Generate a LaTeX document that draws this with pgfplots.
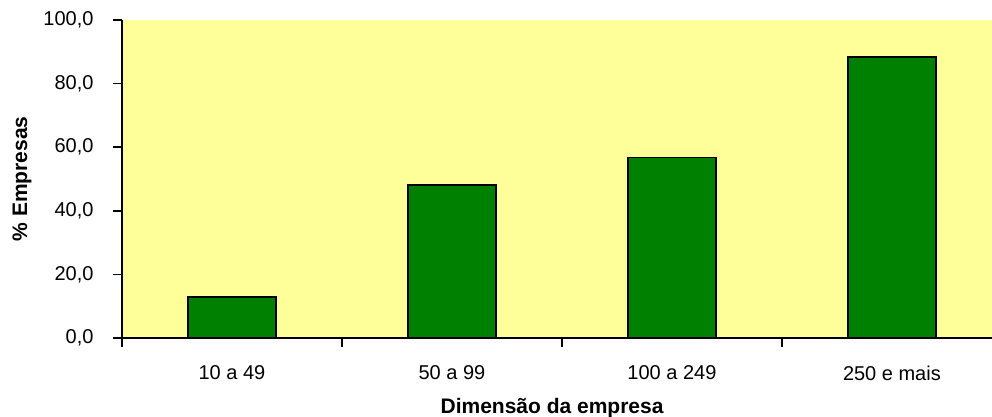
\documentclass[border=0pt]{standalone}
\usepackage{fontspec}
\setmainfont{Liberation Sans}
\usepackage{pgfplots}
\pgfplotsset{compat=1.18}
\definecolor{plotyellow}{HTML}{FFFF99}
\definecolor{bargreen}{HTML}{008000}
\begin{document}
\begin{tikzpicture}
\begin{axis}[
  scale only axis, width=870pt, height=318pt,
  xmin=-0.5, xmax=3.455, ymin=0, ymax=100,
  axis lines*=left,
  axis line style={-, line width=1.5pt, black},
  axis background/.style={fill=plotyellow},
  tick align=outside,
  tick style={black, line width=1.5pt},
  major tick length=9pt,
  ytick={0,20,...,100},
  /pgf/number format/.cd, fixed, fixed zerofill, precision=1, use comma, assume math mode=true,
  /pgfplots/.cd,
  yticklabel style={font=\fontsize{20}{24}\selectfont, xshift=-16pt},
  xtick={-0.5,0.5,1.5,2.5},
  xticklabels={},
  extra x ticks={0,1,2,3},
  extra x tick labels={10 a 49, 50 a 99, 100 a 249, 250 e mais},
  extra x tick style={major tick length=0pt,
    xticklabel style={font=\fontsize{20}{24}\selectfont, yshift=-24pt}},
  xlabel={Dimensão da empresa},
  xlabel style={font=\bfseries\fontsize{21}{25}\selectfont, at={(axis cs:1.455,0)}, anchor=base, yshift=-75pt},
  ylabel={\% Empresas},
  ylabel style={font=\bfseries\fontsize{21}{25}\selectfont, at={(axis description cs:-0.115,0.5)}, anchor=center},
  clip=false,
]
\addplot[ybar, bar width=88pt, fill=bargreen, draw=black, line width=1.5pt]
  coordinates {(0,12.9) (1,48.1) (2,56.8) (3,88.4)};
\end{axis}
\pgfresetboundingbox
\path (-122pt,-79pt) rectangle (870pt,338pt);
\end{tikzpicture}
\end{document}
